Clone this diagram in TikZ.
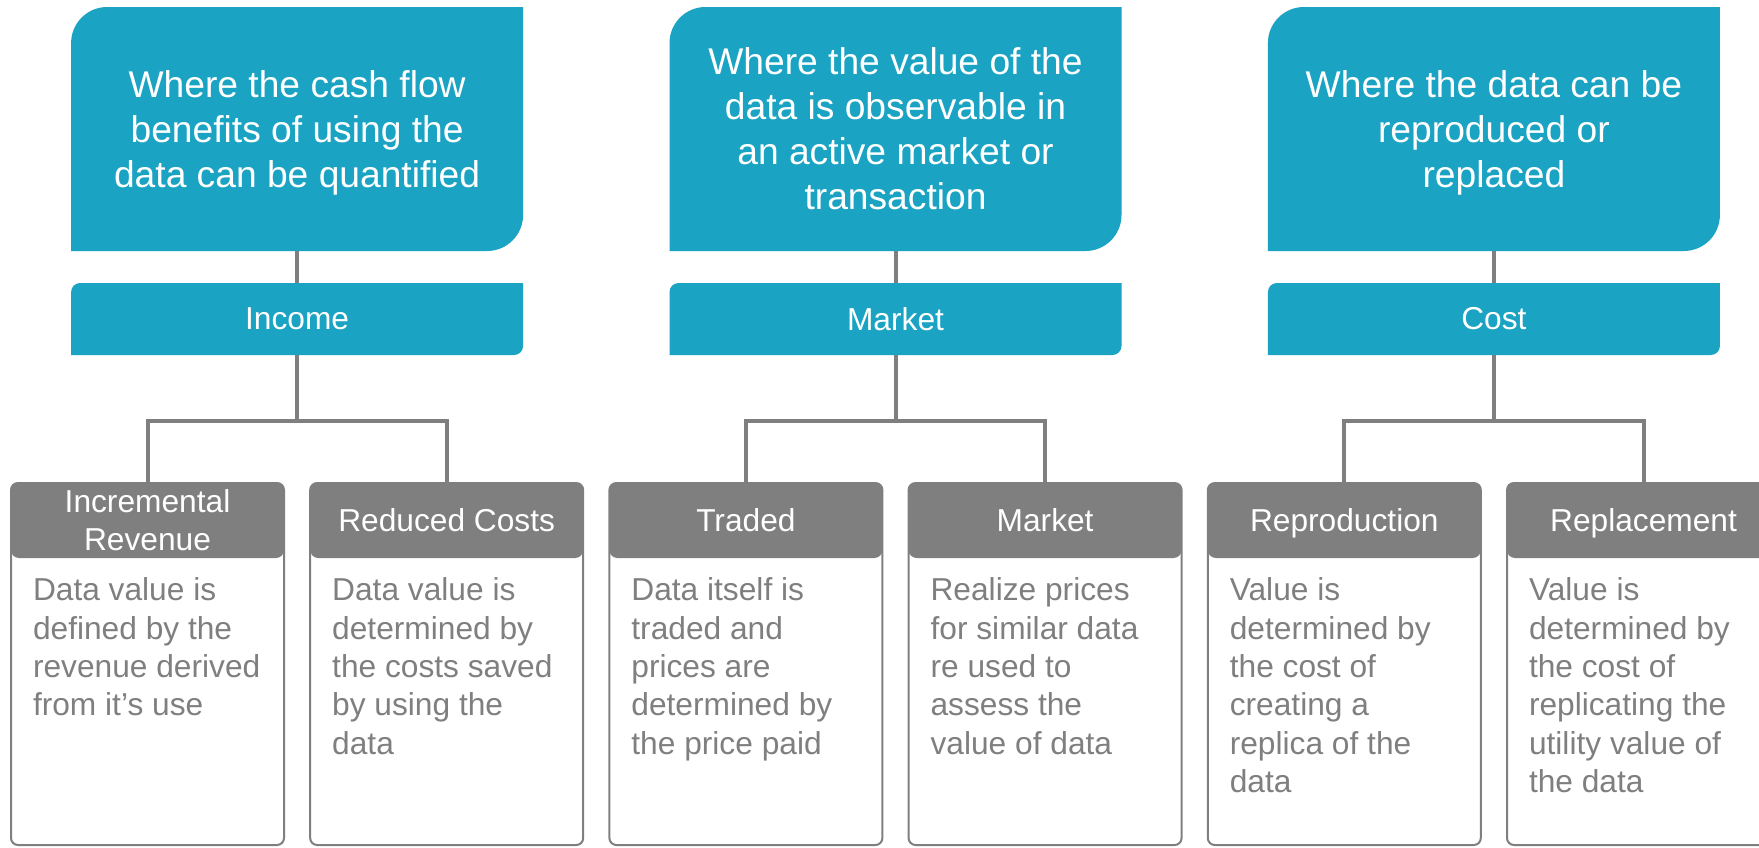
\documentclass[tikz,border=0pt]{standalone}
\usepackage{fontspec}
\setmainfont{Liberation Sans}
\usetikzlibrary{positioning}
\usetikzlibrary{backgrounds}
\definecolor{tealbox}{HTML}{1AA3C2}
\definecolor{greybox}{HTML}{7F7F7F}

\begin{document}
\begin{tikzpicture}[x=1pt,y=1pt,outer sep=0pt,
  topbox/.style={minimum width=452pt,minimum height=244pt,inner sep=0pt,align=center,text=white,text depth=-3pt,font=\fontsize{37.2}{45}\selectfont},
  midbox/.style={minimum width=452pt,minimum height=72pt,inner sep=0pt,text=white,font=\fontsize{31.7}{38}\selectfont},
  headbox/.style={fill=greybox,rounded corners=8pt,minimum width=273pt,minimum height=75pt,inner sep=0pt,align=center,text=white,text height=22.7pt,text depth=0pt,font=\fontsize{31.7}{38}\selectfont},
  framebox/.style={draw=greybox,line width=2pt,rounded corners=7pt,minimum width=273pt,minimum height=362pt,inner sep=0pt},
  bodytext/.style={inner sep=0pt,align=left,text=greybox,font=\fontsize{31.7}{38.3}\selectfont},
  link/.style={draw=greybox,line width=4pt}]
\useasboundingbox (0,0) rectangle (1759,-847);

% questions
\node[topbox] (t1) at (297.1,-129) {Where the cash flow\\benefits of using the\\data can be quantified};
\node[topbox, right=146.4pt of t1] (t2) {Where the value of the\\data is observable in\\an active market or\\transaction};
\node[topbox, right=146.4pt of t2] (t3) {Where the data can be\\reproduced or\\replaced};

% approaches
\node[midbox, below=32pt of t1] (m1) {Income};
\node[midbox, below=32pt of t2] (m2) {Market};
\node[midbox, below=32pt of t3] (m3) {Cost};

% methods
\node[headbox, text height=60.7pt] (h1) at (147.5,-520.5) {Incremental\\Revenue};
\node[headbox, right=26.2pt of h1] (h2) {Reduced Costs};
\node[headbox, right=26.2pt of h2] (h3) {Traded};
\node[headbox, right=26.2pt of h3] (h4) {Market};
\node[headbox, right=26.2pt of h4] (h5) {Reproduction};
\node[headbox, right=26.2pt of h5] (h6) {Replacement};

% descriptions
\node[bodytext, anchor=north west] (d1) at ([xshift=22pt,yshift=-20pt]h1.south west) {Data value is\\defined by the\\revenue derived\\from it’s use};
\node[bodytext, anchor=north west] (d2) at ([xshift=22pt,yshift=-20pt]h2.south west) {Data value is\\determined by\\the costs saved\\by using the\\data};
\node[bodytext, anchor=north west] (d3) at ([xshift=22pt,yshift=-20pt]h3.south west) {Data itself is\\traded and\\prices are\\determined by\\the price paid};
\node[bodytext, anchor=north west] (d4) at ([xshift=22pt,yshift=-20pt]h4.south west) {Realize prices\\for similar data\\re used to\\assess the\\value of data};
\node[bodytext, anchor=north west] (d5) at ([xshift=22pt,yshift=-20pt]h5.south west) {Value is\\determined by\\the cost of\\creating a\\replica of the\\data};
\node[bodytext, anchor=north west] (d6) at ([xshift=22pt,yshift=-20pt]h6.south west) {Value is\\determined by\\the cost of\\replicating the\\utility value of\\the data};

% teal shapes and frames
\begin{scope}[on background layer]
\foreach \n/\r in {t1/36pt,t2/36pt,t3/36pt,m1/9pt,m2/9pt,m3/9pt}
  \fill[tealbox] (\n.south west) -- ([yshift=-\r]\n.north west) arc[start angle=180,end angle=90,radius=\r] -- (\n.north east) -- ([yshift=\r]\n.south east) arc[start angle=0,end angle=-90,radius=\r] -- cycle;
\foreach \n in {1,...,6}
  \node[framebox, anchor=north] (f\n) at (h\n.north) {};
\end{scope}

% links
\draw[link] (t1) -- (m1);
\draw[link] (t2) -- (m2);
\draw[link] (t3) -- (m3);
\draw[link] (m1.south) -- ++(0,-66) -| (h1.north);
\draw[link] (m1.south) -- ++(0,-66) -| (h2.north);
\draw[link] (m2.south) -- ++(0,-66) -| (h3.north);
\draw[link] (m2.south) -- ++(0,-66) -| (h4.north);
\draw[link] (m3.south) -- ++(0,-66) -| (h5.north);
\draw[link] (m3.south) -- ++(0,-66) -| (h6.north);
\end{tikzpicture}
\end{document}
